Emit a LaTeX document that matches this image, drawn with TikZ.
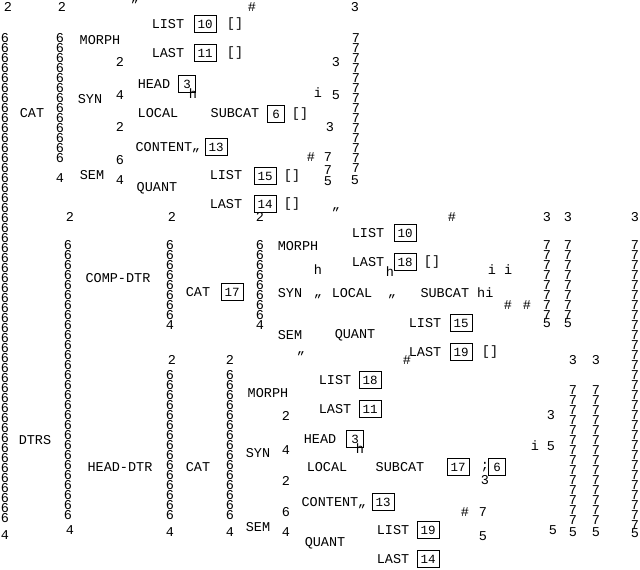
\documentclass[tikz,border=0pt]{standalone}
\usepackage{fontspec}
\setmainfont{Liberation Mono}
\begin{document}
\begin{tikzpicture}[x=1pt,y=-1pt,
  t/.style={inner sep=0pt,font=\fontsize{13.5}{13.5}\selectfont},
  bx/.style={draw,line width=1pt,minimum width=22pt,minimum height=17pt,inner sep=0pt,font=\fontsize{12.5}{12.5}\selectfont}]
\useasboundingbox (0,0) rectangle (640,570);
% bracket columns
\newcommand{\colsix}[4]{\foreach \yy in {#2,#3,...,#4} \node[t] at (#1,\yy) {6};}
\newcommand{\colsev}[4]{\foreach \yy in {#2,#3,...,#4} \node[t] at (#1,\yy) {7};}
\colsix{5}{38}{48}{526}\node[t] (l4) at (5,535) {4};
\colsix{60}{38}{48}{166}\node[t] at (60,178) {4};
\colsev{356}{38}{48}{170}
\colsix{68}{245}{255}{520}\node[t] at (70,530) {4};
\colsix{170}{245}{255}{315}\node[t] at (170,325) {4};
\colsix{260}{245}{255}{315}\node[t] at (260,325) {4};
\colsev{547}{245}{255}{315}\colsev{568}{245}{255}{315}
\colsev{635}{245}{255}{525}\node[t] at (635,533) {5};
\colsix{170}{375}{385}{520}\node[t] at (170,532) {4};
\colsix{230}{375}{385}{520}\node[t] at (230,532) {4};
\colsev{573}{390}{400}{520}\colsev{596}{390}{400}{520}
\node[t] at (573,532) {5};\node[t] at (596,532) {5};
% top section
\node[t] at (8,7) {2};\node[t] at (62,7) {2};\node[t] at (135,5) {"};\node[t] at (252,7) {\#};\node[t] at (355,7) {3};
\node[t] (cat) at (32,113) {CAT};
\node[t] at (100,40) {MORPH};
\node[t] at (168,24) {LIST};\node[bx] (b1) at (205,24) {10};\node[t] at (235,24) {[]};
\node[t] at (168,53) {LAST};\node[bx] (b2) at (205,53) {11};\node[t] at (235,53) {[]};
\node[t] at (120,62) {2};\node[t] at (336,62) {3};
\node[t] at (90,99) {SYN};\node[t] at (120,95) {4};
\node[t] at (154,84) {HEAD};\node[bx,minimum width=17pt] (b3) at (187,84) {3};\node[t] at (193,94) {h};
\node[t] at (158,113) {LOCAL};\node[t] at (235,113) {SUBCAT};\node[bx,minimum width=17pt] (b4) at (276,114) {6};\node[t] at (300,114) {[]};
\node[t] at (318,93) {i};\node[t] at (336,95) {5};
\node[t] at (120,127) {2};\node[t] at (330,127) {3};
\node[t] at (164,147) {CONTENT};\node[bx] (b5) at (216,147) {13};\node[t] at (196,154) {"};
\node[t] at (311,157) {\#};\node[t] at (328,157) {7};
\node[t] at (92,175) {SEM};\node[t] at (120,160) {6};\node[t] at (120,180) {4};
\node[t] at (157,188) {QUANT};
\node[t] at (226,175) {LIST};\node[bx] (b6) at (265,176) {15};\node[t] at (292,176) {[]};
\node[t] at (328,170) {7};\node[t] at (328,181) {5};\node[t] at (355,180) {5};
\node[t] at (226,204) {LAST};\node[bx] (b7) at (265,204) {14};\node[t] at (292,204) {[]};
% second section
\node[t] at (70,217) {2};\node[t] at (172,217) {2};\node[t] at (260,217) {2};\node[t] at (336,213) {"};\node[t] at (452,217) {\#};
\node[t] at (547,217) {3};\node[t] at (568,217) {3};\node[t] at (635,217) {3};
\node[t] at (298,246) {MORPH};
\node[t] at (368,233) {LIST};\node[bx] (c1) at (405,233) {10};
\node[t] at (368,262) {LAST};\node[bx] (c2) at (405,262) {18};\node[t] at (432,262) {[]};
\node[t] at (318,270) {h};\node[t] at (390,272) {h};\node[t] at (500,270) {i i};
\node[t] at (118,278) {COMP-DTR};\node[t] at (198,292) {CAT};\node[bx] (c3) at (232,292) {17};
\node[t] at (290,293) {SYN};\node[t] at (352,293) {LOCAL};\node[t] at (318,300) {"};\node[t] at (392,300) {"};
\node[t] at (457,293) {SUBCAT hi};\node[t] at (508,305) {\#};\node[t] at (527,305) {\#};
\node[t] at (290,335) {SEM};\node[t] at (355,335) {QUANT};
\node[t] at (425,323) {LIST};\node[bx] (c4) at (461,323) {15};
\node[t] at (425,352) {LAST};\node[bx] (c5) at (461,352) {19};\node[t] at (490,352) {[]};
\node[t] at (547,323) {5};\node[t] at (568,323) {5};
% third section
\node[t] at (172,360) {2};\node[t] at (230,360) {2};\node[t] at (301,357) {"};\node[t] at (407,360) {\#};
\node[t] at (573,360) {3};\node[t] at (596,360) {3};
\node[t] at (35,440) {DTRS};\node[t] at (120,467) {HEAD-DTR};\node[t] at (198,467) {CAT};
\node[t] at (268,393) {MORPH};
\node[t] at (335,380) {LIST};\node[bx] (d1) at (370,380) {18};
\node[t] at (335,409) {LAST};\node[bx] (d2) at (370,409) {11};
\node[t] at (286,416) {2};\node[t] at (551,415) {3};
\node[t] at (258,453) {SYN};\node[t] at (286,450) {4};
\node[t] at (320,439) {HEAD};\node[bx,minimum width=17pt] (d3) at (355,439) {3};\node[t] at (360,449) {h};
\node[t] at (535,446) {i};\node[t] at (551,446) {5};
\node[t] at (327,467) {LOCAL};\node[t] at (400,467) {SUBCAT};\node[bx] (d4) at (458,467) {17};
\node[t] at (485,467) {;};\node[bx,minimum width=17pt] (d5) at (497,467) {6};\node[t] at (485,480) {3};
\node[t] at (286,481) {2};
\node[t] at (330,502) {CONTENT};\node[bx] (d6) at (383,502) {13};\node[t] at (362,510) {"};
\node[t] at (465,512) {\#};\node[t] at (483,512) {7};
\node[t] at (258,527) {SEM};\node[t] at (286,512) {6};\node[t] at (286,532) {4};
\node[t] at (325,543) {QUANT};
\node[t] at (393,530) {LIST};\node[bx] (d7) at (428,530) {19};\node[t] at (483,536) {5};
\node[t] at (393,559) {LAST};\node[bx] (d8) at (428,559) {14};
\node[t] at (553,530) {5};
\end{tikzpicture}
\end{document}
